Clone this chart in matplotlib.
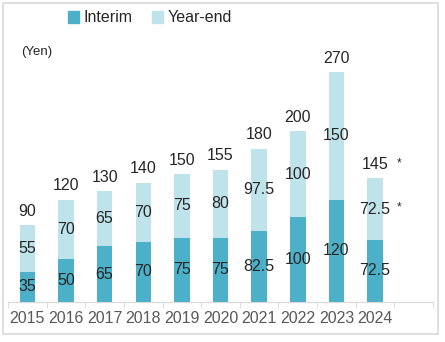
import matplotlib
matplotlib.use("Agg")
import matplotlib.pyplot as plt
from matplotlib.patches import Rectangle, Patch

# ======================================================
# 데이터
# ======================================================
years = ["2015", "2016", "2017", "2018", "2019", "2020", "2021", "2022", "2023", "2024"]
interim = [35, 50, 65, 70, 75, 75, 82.5, 100, 120, 72.5]
year_end = [55, 70, 65, 70, 75, 80, 97.5, 100, 150, 72.5]
forecast = [False] * 9 + [True]

interim_labels = ["35", "50", "65", "70", "75", "75", "82.5", "100", "120", "72.5"]
year_end_labels = ["55", "70", "65", "70", "75", "80", "97.5", "100", "150", "72.5"]
total_labels = ["90", "120", "130", "140", "150", "155", "180", "200", "270", "145"]

C_INTERIM = "#4BB0C8"
C_YEAREND = "#BFE3EA"
C_TEXT = "#262626"
C_GRID = "#D9D9D9"

plt.rcParams["font.family"] = ["Liberation Sans", "DejaVu Sans"]

fig = plt.figure(figsize=(4.45, 3.42), dpi=100)
ax = fig.add_axes([8 / 445, (342 - 301.7) / 342, 425 / 445, 281.7 / 342])

x = list(range(len(years)))
ax.bar(x, interim, width=0.4, color=C_INTERIM, label="Interim")
ax.bar(x, year_end, width=0.4, bottom=interim, color=C_YEAREND, label="Year-end")

# 값 라벨
for i in x:
    total = interim[i] + year_end[i]
    ax.text(i, interim[i] / 2, interim_labels[i], ha="center", va="center",
            fontsize=11.5, color=C_TEXT)
    ax.text(i, interim[i] + year_end[i] / 2, year_end_labels[i], ha="center",
            va="center", fontsize=11.5, color=C_TEXT)
    ax.annotate(total_labels[i], (i, total), xytext=(0, 10), textcoords="offset points",
                ha="center", va="center", fontsize=11.5, color=C_TEXT)
    if forecast[i]:
        ax.annotate("*", (i, total), xytext=(17, 11), textcoords="offset points",
                    ha="center", va="center", fontsize=8.5, color=C_TEXT)
        ax.annotate("*", (i, interim[i] + year_end[i] / 2), xytext=(17, 1),
                    textcoords="offset points", ha="center", va="center",
                    fontsize=8.5, color=C_TEXT)

ax.set_xlim(-0.5, 10.5)
ax.set_ylim(0, 331)
ax.set_xticks(x)
ax.set_xticklabels(years, fontsize=11.5, color="#595959")
ax.set_xticks([i - 0.5 for i in range(12)], minor=True)
ax.tick_params(axis="x", which="major", length=0, pad=7)
ax.tick_params(axis="x", which="minor", length=4, color=C_GRID, direction="out")
ax.set_yticks([])
for side in ["top", "right", "left"]:
    ax.spines[side].set_visible(False)
ax.spines["bottom"].set_color(C_GRID)

handles = [Patch(color=C_INTERIM, label="Interim"), Patch(color=C_YEAREND, label="Year-end")]
fig.legend(handles=handles, loc="center", bbox_to_anchor=(150 / 445, 1 - 18 / 342),
           ncol=2, frameon=False, fontsize=11.5, handlelength=0.7, handleheight=0.7,
           handletextpad=0.3, columnspacing=1.2, labelcolor=C_TEXT)

fig.text(21 / 445, 1 - 52 / 342, "(Yen)", fontsize=9.5, color=C_TEXT, va="center")

fig.patches.append(Rectangle((3 / 445, 1 - 334 / 342), 435 / 445, 331 / 342,
                             transform=fig.transFigure, fill=False,
                             edgecolor=C_GRID, linewidth=1.2))

fig.savefig("out.png", dpi=100)
